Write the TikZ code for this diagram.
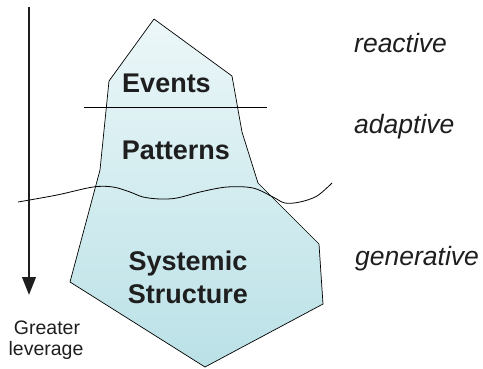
\documentclass[tikz,border=0pt]{standalone}
\usepackage{fontspec}
\setmainfont{Liberation Sans}
\usetikzlibrary{arrows.meta}
\definecolor{iceTop}{RGB}{236,247,248}
\definecolor{iceBot}{RGB}{186,225,231}
\definecolor{txt}{RGB}{30,30,30}
\tikzset{
  boldlbl/.style={anchor=base, font=\fontsize{27}{30}\selectfont\bfseries, text=txt, inner sep=0pt, align=center},
  itallbl/.style={anchor=base west, font=\fontsize{26.5}{30}\selectfont\itshape, text=txt, inner sep=0pt},
  smalllbl/.style={anchor=base, font=\fontsize{19.5}{22}\selectfont, text=txt, inner sep=0pt},
  thinline/.style={line width=0.8pt, black},
}
\begin{document}
\begin{tikzpicture}[x=1pt,y=-1pt]
\useasboundingbox (0,0) rectangle (483,368);
% iceberg
\draw[line width=0.7pt, top color=iceTop, bottom color=iceBot]
  (154,19) -- (232,76) -- (242,132) -- (258,183) -- (319,244) -- (323,304)
  -- (205,367) -- (70,282) -- (100,170) -- (109,81) -- cycle;
% waterline between events and patterns
\coordinate (hl) at (84,107);
\coordinate (hr) at (267,107);
\draw[thinline] (hl) -- (hr);
% water surface
\draw[thinline] plot[smooth, tension=0.55] coordinates {
  (18,202) (57,195) (93,187) (113,187) (130,192) (143,197) (160,199)
  (177,198) (200,192) (227,187) (253,188) (273,197) (285,203)
  (300,202) (317,196) (332,183)};
% labels
\node[boldlbl] (ev) at (166.5,92) {Events};
\node[boldlbl] (pa) at (176,159) {Patterns};
\node[boldlbl] (sy) at (188,270) {Systemic};
\node[boldlbl] (st) at (188,303) {Structure};
\node[itallbl] (re) at (354,52) {reactive};
\node[itallbl] (ad) at (354,133) {adaptive};
\node[itallbl] (ge) at (355,265) {generative};
% arrow
\coordinate (atop) at (29,7);
\coordinate (abot) at (29,295);
\draw[line width=2.5pt, txt, -{Triangle[length=18pt,width=13.5pt]}] (atop) -- (abot);
\node[smalllbl] (gr) at (47,334) {Greater};
\node[smalllbl] (lv) at (46,355) {leverage};
\end{tikzpicture}
\end{document}
